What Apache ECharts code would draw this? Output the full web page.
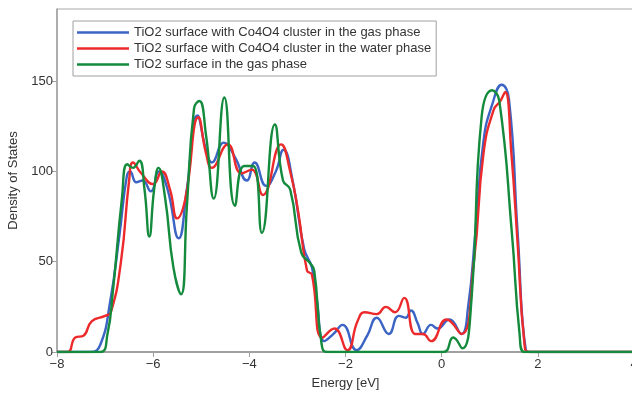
<!DOCTYPE html>
<html>
<head>
<meta charset="utf-8">
<script src="https://cdn.jsdelivr.net/npm/echarts@6/dist/echarts.min.js"></script>
<style>
  html, body { margin: 0; padding: 0; background: #fff; }
  #chart { width: 632px; height: 394px; }
</style>
</head>
<body>
<div id="chart"></div>
<script>
// series names
var seriesNames = [
  'TiO2 surface with Co4O4 cluster in the gas phase',
  'TiO2 surface with Co4O4 cluster in the water phase',
  'TiO2 surface in the gas phase'
];

// y tick labels
var dosTicks = [0, 50, 100, 150];

// Co4O4 / gas phase (blue)
var gasEnergy = [-8, -7.3, -7.1, -6.9, -6.7, -6.55, -6.48, -6.35, -6.22, -6.05, -5.88, -5.7, -5.47, -5.3, -5.08, -4.9, -4.78, -4.53, -4.3, -4.05, -3.89, -3.65, -3.45, -3.29, -3.1, -2.86, -2.7, -2.6, -2.44, -2.25, -2.06, -1.77, -1.55, -1.35, -1.1, -0.89, -0.75, -0.64, -0.5, -0.39, -0.22, -0.09, 0.16, 0.41, 0.55, 0.7, 0.87, 1.05, 1.25, 1.4, 1.58, 1.75, 1.85, 4];
var gasDos = [0, 0, 4, 27, 65, 97, 100, 94, 95, 89, 100, 90, 63, 90, 131, 112, 105, 116, 108, 95, 105, 92, 100, 112, 95, 57, 47, 30, 6, 10, 15, 1, 9, 19, 10, 20, 19, 23, 16, 10, 15, 13, 18, 10, 25, 66, 117, 137, 148, 140, 66, 1, 0, 0];

// Co4O4 / water phase (red)
var waterEnergy = [-8, -7.78, -7.62, -7.45, -7.28, -7.0, -6.88, -6.67, -6.5, -6.42, -6.25, -6.0, -5.82, -5.65, -5.5, -5.33, -5.06, -4.9, -4.78, -4.45, -4.16, -3.95, -3.72, -3.34, -3.15, -2.98, -2.8, -2.7, -2.48, -2.23, -1.96, -1.75, -1.6, -1.35, -1.16, -0.97, -0.78, -0.55, -0.39, -0.22, 0.1, 0.41, 0.67, 0.87, 1.08, 1.22, 1.32, 1.45, 1.58, 1.72, 1.82, 4];
var waterDos = [0, 0, 8, 9, 17, 20, 22, 50, 95, 105, 99, 93, 100, 90, 74, 85, 130, 110, 102, 115, 99, 101, 87, 115, 100, 77, 45, 43, 8, 13, 1, 17, 22, 21, 25, 22, 30, 10, 10, 6, 18, 10, 50, 110, 134, 139, 144, 110, 60, 5, 0, 0];

// bare TiO2 / gas phase (green)
var bareEnergy = [-8, -7.1, -6.95, -6.84, -6.65, -6.54, -6.42, -6.29, -6.18, -6.08, -5.98, -5.89, -5.75, -5.58, -5.42, -5.3, -5.15, -5.04, -4.9, -4.74, -4.52, -4.3, -4.11, -3.92, -3.74, -3.47, -3.3, -3.15, -2.92, -2.73, -2.65, -2.5, -2.38, 0.03, 0.24, 0.43, 0.62, 0.83, 1.05, 1.2, 1.46, 1.62, 1.72, 4];
var bareDos = [0, 0, 10, 33, 85, 104, 102, 106, 90, 64, 90, 102, 85, 47, 32, 80, 135, 139, 120, 85, 141, 81, 103, 103, 66, 126, 95, 90, 55, 49, 45, 5, 0, 0, 8, 2, 29, 130, 145, 139, 66, 10, 0, 0];

var colors = ['#3b64c4', '#ec2a2c', '#138a3c'];

function pairs(xs, ys) {
  return xs.map(function (x, i) { return [x, ys[i]]; });
}

var myChart = echarts.init(document.getElementById('chart'));
var font = 'Liberation Sans, Arial, sans-serif';

var option = {
  animation: false,
  textStyle: { fontFamily: font },
  grid: {
    left: 57, right: -2, top: 9, bottom: 42,
    containLabel: false,
    outerBoundsMode: 'none',
    show: true, borderColor: '#a8a8a8', borderWidth: 1
  },
  legend: {
    orient: 'vertical',
    left: 73, top: 21,
    padding: [5, 5, 5, 4],
    itemGap: 3,
    itemWidth: 52, itemHeight: 2.4,
    icon: 'rect',
    borderColor: '#a0a0a0', borderWidth: 1,
    textStyle: { fontSize: 13, color: '#333', fontFamily: font },
    data: seriesNames
  },
  xAxis: {
    type: 'value',
    min: -8, max: 4, interval: 2,
    name: 'Energy [eV]',
    nameLocation: 'middle',
    nameGap: 25,
    nameTextStyle: { fontSize: 13, color: '#333', fontFamily: font },
    splitLine: { show: false },
    axisLine: { onZero: false, lineStyle: { color: '#a0a0a0', width: 2 } },
    axisTick: { show: true, length: 5, lineStyle: { color: '#a0a0a0' } },
    axisLabel: {
      fontSize: 13, color: '#333', margin: 6, fontFamily: font,
      formatter: function (v) { return String(v).replace('-', '\u2212'); }
    }
  },
  yAxis: {
    type: 'value',
    min: 0, max: 190, interval: 50,
    name: 'Density of States',
    nameLocation: 'middle',
    nameGap: 34,
    nameTextStyle: { fontSize: 13, color: '#333', fontFamily: font },
    splitLine: { show: false },
    axisLine: { show: true, onZero: false, lineStyle: { color: '#a0a0a0', width: 1.5 } },
    axisTick: { show: true, length: 5, customValues: dosTicks, lineStyle: { color: '#a0a0a0' } },
    axisLabel: {
      fontSize: 13, color: '#333', margin: 4, fontFamily: font,
      customValues: dosTicks
    }
  },
  series: [
    { name: seriesNames[0], data: pairs(gasEnergy, gasDos) },
    { name: seriesNames[1], data: pairs(waterEnergy, waterDos) },
    { name: seriesNames[2], data: pairs(bareEnergy, bareDos) }
  ].map(function (s, i) {
    s.type = 'line';
    s.smooth = 0.5;
    s.symbol = 'none';
    s.color = colors[i];
    s.lineStyle = { width: 2.4, color: colors[i] };
    return s;
  })
};

myChart.setOption(option);
window.addEventListener('resize', myChart.resize);
</script>
</body>
</html>
